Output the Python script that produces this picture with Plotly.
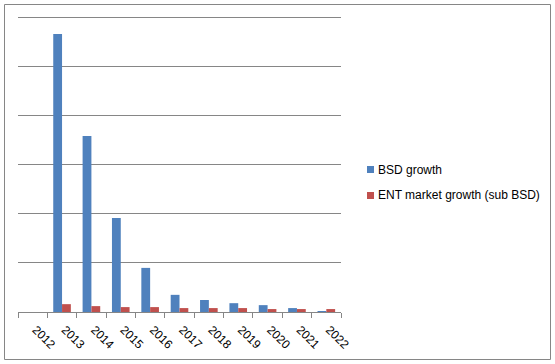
import plotly.graph_objects as go

years = ["2012", "2013", "2014", "2015", "2016", "2017", "2018", "2019", "2020", "2021", "2022"]
bsd_growth = [0, 5.67, 3.59, 1.92, 0.90, 0.35, 0.245, 0.18, 0.14, 0.08, 0.02]
ent_growth = [0, 0.16, 0.12, 0.10, 0.10, 0.08, 0.08, 0.08, 0.06, 0.06, 0.06]
series_names = ["BSD growth", "ENT market growth (sub BSD)"]
series_colors = ["#4F81BD", "#C0504D"]

W, H = 555, 364
L, R, T, B = 18, 214, 13, 52
pw, ph = W - L - R, H - T - B

def px(x):
    return (x - L) / pw

def py(y):
    return (H - B - y) / ph

fig = go.Figure()
for vals, name, col in zip([bsd_growth, ent_growth], series_names, series_colors):
    fig.add_trace(go.Bar(x=years, y=vals, name=name,
                         marker=dict(color=col, line=dict(width=0)), showlegend=False))

shapes = [dict(type="rect", xref="paper", yref="paper",
               x0=px(4.5), x1=px(550.5), y0=py(359.5), y1=py(4.5),
               line=dict(color="#868686", width=1), layer="above")]
annotations = []
legend_rows = [169.5, 195.5]
for name, col, yc in zip(series_names, series_colors, legend_rows):
    shapes.append(dict(type="rect", xref="paper", yref="paper",
                       x0=px(367), x1=px(374), y0=py(yc + 3.5), y1=py(yc - 3.5),
                       fillcolor=col, line=dict(width=0), layer="above"))
    annotations.append(dict(text=name, xref="paper", yref="paper", x=px(376), y=py(yc),
                            xanchor="left", yanchor="middle", showarrow=False,
                            font=dict(size=12, color="#000000")))

fig.update_layout(
    width=W, height=H,
    margin=dict(l=L, r=R, t=T, b=B, autoexpand=False),
    paper_bgcolor="white", plot_bgcolor="white",
    barmode="group", bargap=0.4, bargroupgap=0,
    font=dict(family="Liberation Sans, Arial, sans-serif", size=12, color="#000000"),
    showlegend=False,
    xaxis=dict(type="category", tickangle=45, showline=True, linecolor="#868686", linewidth=1,
               ticks="outside", tickson="boundaries", ticklen=5, tickcolor="#868686",
               showgrid=False, tickfont=dict(size=12), automargin=False,
               ticklabelstandoff=5, ticklabelshift=3),
    yaxis=dict(range=[0, 6.1], tickvals=[1, 2, 3, 4, 5, 6], showticklabels=False, showgrid=True,
               gridcolor="#868686", gridwidth=1, zeroline=False, showline=False, ticks="",
               automargin=False),
    shapes=shapes,
    annotations=annotations,
)

fig.write_html("out.html", config={"displayModeBar": False},
               post_script="document.body.style.margin='0';document.body.style.overflow='hidden';")
